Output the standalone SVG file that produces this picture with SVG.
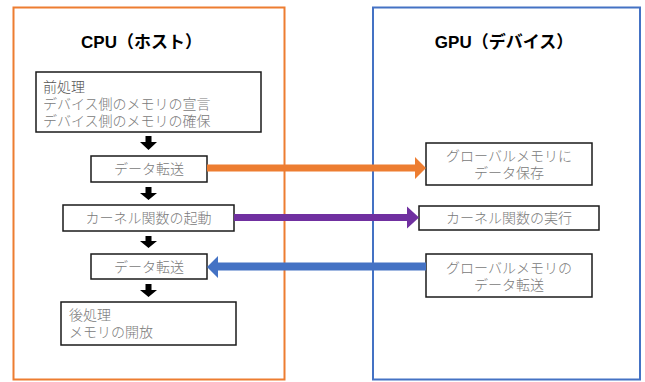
<svg xmlns="http://www.w3.org/2000/svg" width="645" height="382" viewBox="0 0 645 382">
<style>
.bg{fill:#fff}
.frame{fill:none;stroke-width:2}
.box{fill:#fff;stroke:#1a1a1a;stroke-width:1.5}
.t{font-family:"Liberation Serif","Noto Sans CJK JP",serif;font-size:14px;font-weight:300;fill:#7a7a7a}
.title{font-family:"Liberation Sans","Noto Sans CJK JP",sans-serif;font-size:17px;font-weight:bold;fill:#000;text-anchor:middle}
.c{text-anchor:middle}
.down{fill:#000}
</style>
<rect class="bg" x="0" y="0" width="645" height="382"/>
<g id="cpu">
<rect class="frame" x="13.5" y="7.5" width="271" height="372" stroke="#ED7D31"/>
<text class="title" x="141.5" y="48">CPU（ホスト）</text>
</g>
<g id="gpu">
<rect class="frame" x="373" y="7.5" width="267" height="372" stroke="#4472C4"/>
<text class="title" x="504" y="48">GPU（デバイス）</text>
</g>
<g id="pre">
<rect class="box" x="36" y="72" width="225" height="60"/>
<text class="t" x="43" y="92" style="fill:#555">前処理</text>
<text class="t" x="43" y="109">デバイス側のメモリの宣言</text>
<text class="t" x="43" y="126">デバイス側のメモリの確保</text>
</g>
<g id="send1">
<rect class="box" x="91" y="156" width="116" height="26"/>
<text class="t c" x="149" y="174">データ転送</text>
</g>
<g id="launch">
<rect class="box" x="63" y="205" width="171" height="26"/>
<text class="t c" x="148.5" y="223">カーネル関数の起動</text>
</g>
<g id="send2">
<rect class="box" x="91" y="254" width="116" height="25"/>
<text class="t c" x="149" y="272">データ転送</text>
</g>
<g id="post">
<rect class="box" x="61" y="302" width="175" height="43"/>
<text class="t" x="69" y="320">後処理</text>
<text class="t" x="69" y="337">メモリの開放</text>
</g>
<g id="gstore">
<rect class="box" x="426" y="143" width="166" height="42"/>
<text class="t c" x="509" y="161">グローバルメモリに</text>
<text class="t c" x="509" y="178">データ保存</text>
</g>
<g id="gexec">
<rect class="box" x="419" y="206" width="180" height="24"/>
<text class="t c" x="509" y="223">カーネル関数の実行</text>
</g>
<g id="gsend">
<rect class="box" x="426" y="254" width="166" height="43"/>
<text class="t c" x="509" y="273">グローバルメモリの</text>
<text class="t c" x="509" y="290">データ転送</text>
</g>
<g id="connectors">
<polygon class="down" points="145.5,136 151.5,136 151.5,142 157,142 148.5,150 140,142 145.5,142"/>
<polygon class="down" points="145.5,187 151.5,187 151.5,193 157,193 148.5,200 140,193 145.5,193"/>
<polygon class="down" points="145.5,236 151.5,236 151.5,241 157,241 148.5,248 140,241 145.5,241"/>
<polygon class="down" points="145.5,284 151.5,284 151.5,290 157,290 148.5,297 140,290 145.5,290"/>
<polygon fill="#ED7D31" points="207,164.5 415,164.5 415,157 426,168 415,179 415,171.5 207,171.5"/>
<polygon fill="#7030A0" points="234,214 407,214 407,206.5 419,217.5 407,228.5 407,221 234,221"/>
<polygon fill="#4472C4" points="426,262.5 218,262.5 218,256 207,267 218,278 218,270.5 426,270.5"/>
</g>
</svg>
